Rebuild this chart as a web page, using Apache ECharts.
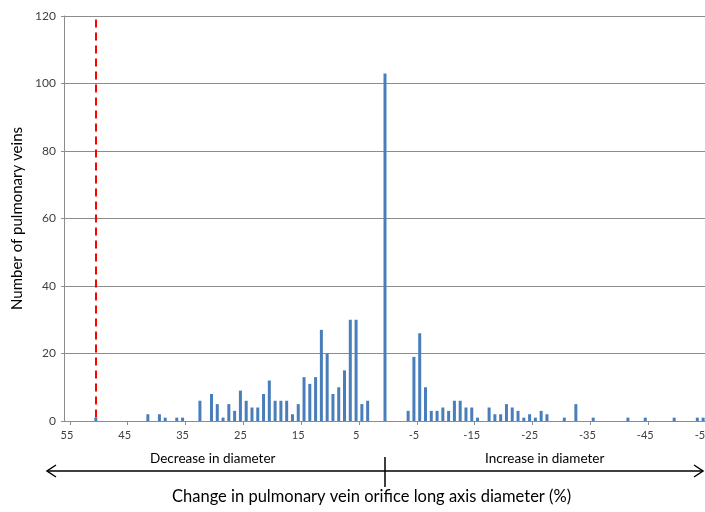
<!DOCTYPE html>
<html>
<head>
<meta charset="utf-8">
<script src="https://cdn.jsdelivr.net/npm/echarts@6/dist/echarts.min.js"></script>
<style>
  html, body { margin: 0; padding: 0; background: #fff; }
  #chart { width: 705px; height: 512px; }
</style>
</head>
<body>
<div id="chart"></div>
<script>
// change in diameter (%) from 55 down to -55, one bar per percent
var categories = [];
for (var c = 55; c >= -55; c--) categories.push(String(c));

// number of veins per category (same order as categories)
var counts = [
  0, 0, 0, 0, 0, 1, 0, 0, 0, 0,        // 55 .. 46
  0, 0, 0, 0, 2, 0, 2, 1, 0, 1,        // 45 .. 36
  1, 0, 0, 6, 0, 8, 5, 1, 5, 3,        // 35 .. 26
  9, 6, 4, 4, 8, 12, 6, 6, 6, 2,       // 25 .. 16
  5, 13, 11, 13, 27, 20, 8, 10, 15, 30,// 15 .. 6
  30, 5, 6, 0, 0, 103, 0, 0, 0, 3,     // 5 .. -4
  19, 26, 10, 3, 3, 4, 3, 6, 6, 4,     // -5 .. -14
  4, 1, 0, 4, 2, 2, 5, 4, 3, 1,        // -15 .. -24
  2, 1, 3, 2, 0, 0, 1, 0, 5, 0,        // -25 .. -34
  0, 1, 0, 0, 0, 0, 0, 1, 0, 0,        // -35 .. -44
  1, 0, 0, 0, 0, 1, 0, 0, 0, 1,        // -45 .. -54
  1                                    // -55
];

var cutoff = '50';
var yTicks = [0, 20, 40, 60, 80, 100, 120];

var myChart = echarts.init(document.getElementById('chart'));
var font = 'Lato, "Liberation Sans", sans-serif';

function mod10(v) { v = Number(v); return ((v % 10) + 10) % 10; }

option = {
  animation: false,
  grid: { left: 64, top: 16, width: 642, bottom: 91, outerBoundsMode: 'none', containLabel: false },
  xAxis: {
    type: 'category',
    data: categories,
    boundaryGap: true,
    axisLine: { lineStyle: { color: '#8c8c8c', width: 1 } },
    axisTick: {
      show: true,
      length: 4,
      interval: function (idx, val) { return mod10(val) === 4; },
      lineStyle: { color: '#8c8c8c' }
    },
    axisLabel: {
      interval: function (idx, val) { return Math.abs(Number(val)) % 10 === 5; },
      color: '#404040',
      fontFamily: font,
      fontSize: 11,
      margin: 9
    },
    splitLine: { show: false }
  },
  yAxis: {
    type: 'value',
    min: yTicks[0],
    max: yTicks[yTicks.length - 1],
    interval: 20,
    name: 'Number of pulmonary veins',
    nameLocation: 'middle',
    nameGap: 38,
    nameTextStyle: { color: '#000', fontFamily: font, fontSize: 15 },
    axisLine: { show: true, lineStyle: { color: '#8c8c8c' } },
    axisTick: { show: true, length: 3, lineStyle: { color: '#8c8c8c' } },
    axisLabel: { color: '#404040', fontFamily: font, fontSize: 12, margin: 8 },
    splitLine: { lineStyle: { color: '#8c8c8c', width: 1 } }
  },
  series: [
    {
      type: 'bar',
      data: counts,
      barWidth: 3,
      itemStyle: { color: '#4a7ebb' },
      markLine: {
        silent: true,
        symbol: 'none',
        label: { show: false },
        lineStyle: { color: '#ff0000', type: [8, 5], width: 2 },
        data: [[{ coord: [cutoff, 119] }, { coord: [cutoff, 0] }]]
      }
    }
  ],
  graphic: [
    { type: 'line', shape: { x1: 47, y1: 471, x2: 703, y2: 471 }, style: { stroke: '#000', lineWidth: 1.5 } },
    { type: 'polyline', shape: { points: [[56, 465], [47, 471], [56, 477]] }, style: { stroke: '#000', lineWidth: 1.5, fill: null } },
    { type: 'polyline', shape: { points: [[694, 465], [703, 471], [694, 477]] }, style: { stroke: '#000', lineWidth: 1.5, fill: null } },
    { type: 'line', shape: { x1: 385, y1: 457, x2: 385, y2: 487 }, style: { stroke: '#000', lineWidth: 1.5 } },
    { type: 'text', left: 150, top: 452, style: { text: 'Decrease in diameter', fill: '#000', font: '13.5px ' + font } },
    { type: 'text', left: 485, top: 452, style: { text: 'Increase in diameter', fill: '#000', font: '13.5px ' + font } },
    { type: 'text', left: 172, top: 488, style: { text: 'Change in pulmonary vein orifice long axis diameter (%)', fill: '#000', font: '16.5px ' + font } }
  ]
};
myChart.setOption(option);
</script>
</body>
</html>
